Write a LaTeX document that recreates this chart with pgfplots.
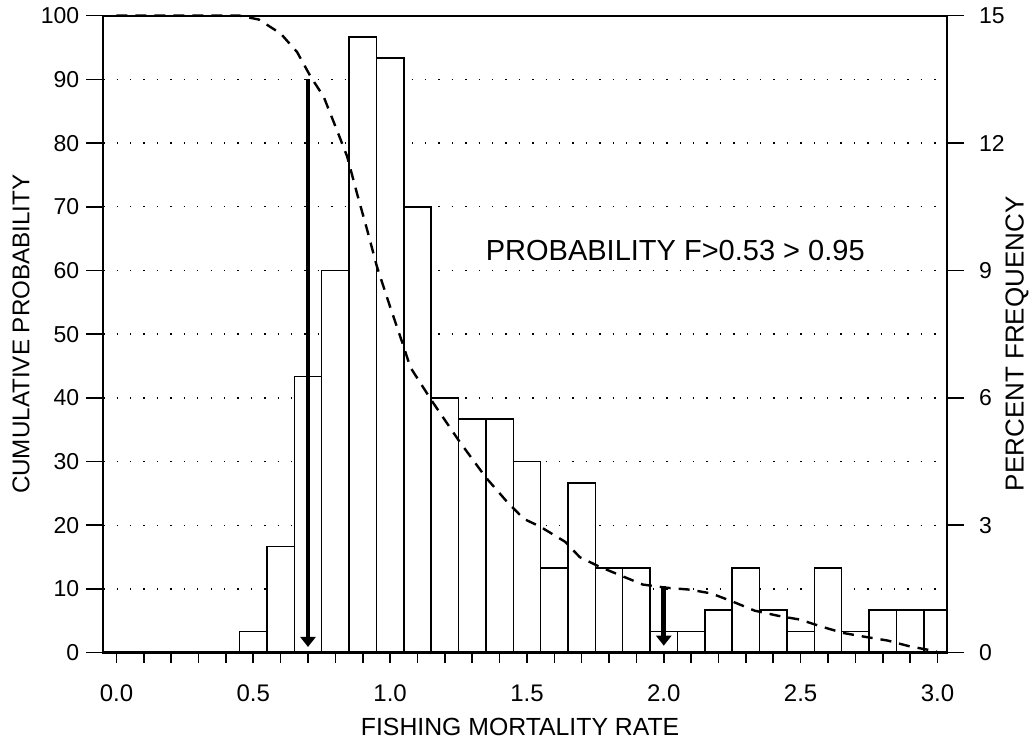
\documentclass[border=0pt]{standalone}
\usepackage{fontspec}
\setmainfont{Liberation Sans}
\usepackage{pgfplots}
\pgfplotsset{compat=1.18}
\usetikzlibrary{arrows.meta}

\pgfplotsset{
  common/.style={
    scale only axis, width=421.85pt, height=318.5pt,
    xmin=-0.048, xmax=3.035,
    tick align=outside,
    /pgf/number format/assume math mode=true,
    tick label style={font=\fontsize{11.5}{13}\selectfont},
    axis line style={line width=1.1pt},
    tick style={line width=0.8pt, black},
    major tick length=8.5pt,
    minor tick length=5pt,
  },
}

\begin{document}
\begin{tikzpicture}
% Axis A: left scale, x ticks, grid
\begin{axis}[common,
  ymin=0, ymax=100,
  ytick={0,10,...,100},
  ytick pos=left,
  xtick pos=bottom,
  xtick={0,0.5,1,1.5,2,2.5,3},
  minor xtick={0.1,0.2,0.3,0.4,0.6,0.7,0.8,0.9,1.1,1.2,1.3,1.4,1.6,1.7,1.8,1.9,2.1,2.2,2.3,2.4,2.6,2.7,2.8,2.9},
  xtick style={/pgfplots/major tick length=5pt},
  xticklabel={\pgfmathprintnumber[fixed,fixed zerofill,precision=1]{\tick}},
  xticklabel style={yshift=-4pt, font=\fontsize{12}{14}\selectfont},
  ymajorgrids,
  grid style={black, line width=0.7pt, dash pattern=on 0.7pt off 6pt},
  ylabel={CUMULATIVE PROBABILITY},
  ylabel style={at={(axis description cs:-0.0975,0.5)}, anchor=center, font=\fontsize{12.1}{14}\selectfont},
  xlabel={FISHING MORTALITY RATE},
  xlabel style={at={(axis description cs:0.494,-0.1166)}, anchor=center, font=\fontsize{12.4}{14}\selectfont},
]
\coordinate (bl) at (rel axis cs:0,0);
\coordinate (tr) at (rel axis cs:1,1);
\end{axis}

% Axis B: right scale, histogram bars
\begin{axis}[common,
  ymin=0, ymax=15,
  ytick={0,3,...,15},
  ytick pos=right,
  xtick=\empty,
  axis on top,
  yticklabel style={xshift=4pt},
  ylabel={PERCENT FREQUENCY},
  ylabel style={at={(axis description cs:1.083,0.485)}, anchor=center, font=\fontsize{13}{15}\selectfont},
]
\addplot[ybar, bar width=0.1, fill=white, draw=black, line width=0.75pt] table {
x pct
0.5 0.5
0.6 2.5
0.7 6.5
0.8 9.0
0.9 14.5
1.0 14.0
1.1 10.5
1.2 6.0
1.3 5.5
1.4 5.5
1.5 4.5
1.6 2.0
1.7 4.0
1.8 2.0
1.9 2.0
2.0 0.5
2.1 0.5
2.2 1.0
2.3 2.0
2.4 1.0
2.5 0.5
2.6 2.0
2.7 0.5
2.8 1.0
2.9 1.0
3.0 1.0
};
\end{axis}

% Axis C: cumulative curve, arrows, annotation
\begin{axis}[common, hide axis, ymin=0, ymax=100, clip=false]
\addplot[black, line width=1.2pt, dash pattern=on 5.5pt off 4pt] coordinates {
(0,100) (0.45,100) (0.52,99.4) (0.6,97.2) (0.66,94.3) (0.71,90.4) (0.757,87.3)
(0.806,82) (0.843,77.9) (0.879,72.1) (0.916,66.4) (0.952,60.6) (1.0,54.3)
(1.05,48) (1.074,44.8) (1.153,39.5) (1.251,33.3) (1.35,27.5) (1.429,23.6)
(1.489,21.0) (1.548,19.8) (1.64,17.4) (1.693,15.0) (1.765,13.5) (1.838,12.2)
(1.923,10.7) (2.009,10.2) (2.095,9.9) (2.174,9.3) (2.253,8.0) (2.332,6.6)
(2.417,5.8) (2.497,5.2) (2.576,4.1) (2.655,3.1) (2.734,2.5) (2.819,1.9)
(2.898,1.0) (2.997,0.2)
};
\addplot[black, line width=2.3pt, -{Triangle[width=7.5pt,length=5pt]}] coordinates {(0.7,90) (0.7,0.9)};
\addplot[black, line width=2.3pt, -{Triangle[width=7.5pt,length=5pt]}] coordinates {(2.0,10.5) (2.0,1.1)};
\draw[line width=1.7pt] (rel axis cs:0,0) -- (rel axis cs:1,0);
\node[font=\fontsize{14.5}{17}\selectfont, anchor=center] at (axis cs:2.042,63.2) {PROBABILITY F>0.53 > 0.95};
\end{axis}

\pgfresetboundingbox
\path[use as bounding box] ([xshift=-51.65pt,yshift=-47.15pt]bl) rectangle ([xshift=42.5pt,yshift=7.85pt]tr);
\end{tikzpicture}
\end{document}
